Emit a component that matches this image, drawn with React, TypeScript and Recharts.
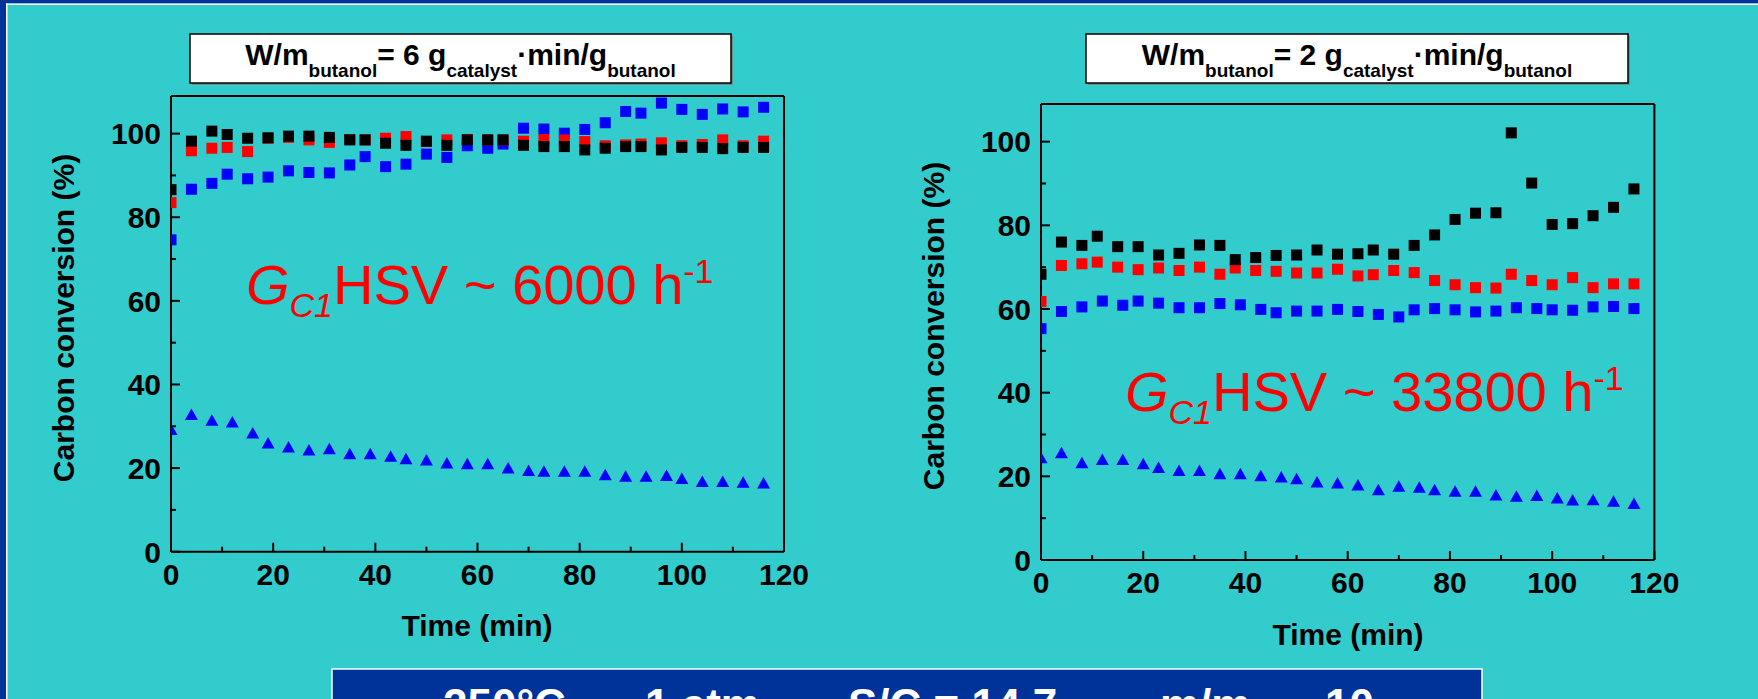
import { ScatterChart, Scatter, XAxis, YAxis } from "recharts";

// times (min)
const timeA = [0, 4, 8, 11, 15, 19, 23, 27, 31, 35, 38, 42, 46, 50, 54, 58, 62, 65, 69, 73, 77, 81, 85, 89, 92, 96, 100, 104, 108, 112, 116];
const timeB = [0, 4, 8, 12, 16, 19, 23, 27, 31, 35, 39, 43, 46, 50, 54, 58, 62, 66, 70, 73, 77, 81, 85, 89, 93, 97, 100, 104, 108, 112, 116];
const timeC = [0, 4, 8, 12, 16, 20, 23, 27, 31, 35, 39, 43, 47, 50, 54, 58, 62, 66, 70, 74, 77, 81, 85, 89, 93, 97, 101, 104, 108, 112, 116];

// W/m = 6
const blackL = [86.6, 98.2, 100.6, 99.8, 98.9, 99.0, 99.4, 99.4, 99.1, 98.5, 98.5, 97.7, 97.2, 98.2, 97.2, 98.5, 98.5, 98.5, 97.2, 96.9, 96.9, 96.1, 96.5, 96.9, 96.9, 96.1, 96.7, 96.7, 96.4, 96.7, 96.7];
const redL = [83.5, 95.9, 96.5, 96.7, 95.7, 98.9, 99.1, 98.5, 97.9, 98.6, 98.5, 98.9, 99.3, 98.1, 98.5, 98.6, 98.5, 98.5, 98.2, 98.6, 98.5, 98.1, 97.1, 97.3, 97.5, 97.8, 97.1, 97.4, 98.5, 97.1, 98.2];
const blueL = [74.6, 86.7, 88.1, 90.3, 89.2, 89.6, 91.1, 90.7, 90.6, 92.5, 94.5, 92.1, 92.7, 95.1, 94.3, 97.1, 96.5, 97.5, 101.3, 101.1, 100.1, 101.0, 102.6, 105.3, 104.9, 107.3, 105.8, 104.6, 105.9, 105.2, 106.3];
const triL = [29.1, 32.7, 31.3, 30.9, 28.3, 25.9, 24.9, 24.2, 24.5, 23.3, 23.3, 22.7, 22.1, 21.8, 21.1, 20.9, 20.9, 19.9, 19.3, 19.1, 19.1, 19.1, 18.3, 17.9, 17.9, 18.1, 17.4, 16.7, 16.7, 16.5, 16.3];

// W/m = 2
const blackR = [68.3, 76.0, 75.2, 77.4, 74.9, 74.9, 72.9, 73.3, 75.3, 75.2, 71.8, 72.3, 72.8, 72.9, 74.1, 73.1, 73.2, 74.1, 73.1, 75.2, 77.7, 81.4, 82.9, 83.0, 102.1, 90.1, 80.2, 80.4, 82.3, 84.3, 88.7];
const redR = [61.8, 70.4, 70.8, 71.2, 70.0, 69.4, 69.8, 69.2, 70.0, 68.3, 69.8, 69.2, 69.0, 68.6, 68.6, 69.5, 67.9, 68.2, 69.2, 68.7, 66.8, 65.8, 65.1, 65.0, 68.3, 66.8, 65.8, 67.5, 65.1, 66.0, 66.0];
const blueR = [55.3, 59.4, 60.5, 61.9, 60.9, 61.9, 61.4, 60.3, 60.3, 61.3, 61.0, 59.9, 59.1, 59.5, 59.5, 59.9, 59.4, 58.7, 58.1, 59.8, 60.1, 59.8, 59.3, 59.5, 60.3, 60.1, 59.8, 59.7, 60.5, 60.6, 60.1];
const triR = [24.3, 25.5, 23.1, 23.9, 23.9, 22.9, 22.0, 21.3, 21.3, 20.5, 20.5, 20.0, 19.7, 19.3, 18.5, 18.3, 17.8, 16.7, 17.5, 17.3, 16.7, 16.3, 16.3, 15.4, 15.1, 15.3, 14.7, 14.2, 14.3, 13.9, 13.4];

const xTicks = [0, 10, 20, 30, 40, 50, 60, 70, 80, 90, 100, 110, 120];
const yTicks = [0, 10, 20, 30, 40, 50, 60, 70, 80, 90, 100];

const FONT = "'Liberation Sans', Arial, sans-serif";
const BG = "#33cccc";
const NAVY = "#003399";
const AXIS = { stroke: "#000", strokeWidth: 2 };

const pts = (ts: number[], vs: number[]) => ts.map((t, i) => ({ t, v: vs[i] }));

const square = (color: string) => (p: any) =>
  <rect x={p.cx - 5.5} y={p.cy - 5.5} width={11} height={11} fill={color} />;

const triangle = (p: any) =>
  <path d={`M${p.cx},${p.cy - 6.5}L${p.cx + 6.5},${p.cy + 5}L${p.cx - 6.5},${p.cy + 5}Z`} fill="#0000ff" />;

const isMajor = (v: number) => v % 20 === 0;

const BottomTick = (p: any) => {
  const v = p.payload.value;
  return (
    <g>
      <line x1={p.x} x2={p.x} y1={p.y} y2={p.y - (isMajor(v) ? 9 : 5)} stroke="#000" strokeWidth={2} />
      {isMajor(v) && (
        <text x={p.x} y={p.y + 33} textAnchor="middle" fontSize={30} fontWeight="bold" fontFamily={FONT} fill="#000">
          {v}
        </text>
      )}
    </g>
  );
};

const TopTick = (p: any) => (
  <line x1={p.x} x2={p.x} y1={p.y} y2={p.y + (isMajor(p.payload.value) ? 9 : 5)} stroke="#000" strokeWidth={2} />
);

const LeftTick = (p: any) => {
  const v = p.payload.value;
  return (
    <g>
      <line x1={p.x} x2={p.x + (isMajor(v) ? 9 : 5)} y1={p.y} y2={p.y} stroke="#000" strokeWidth={2} />
      {isMajor(v) && (
        <text x={p.x - 10} y={p.y} dy="0.36em" textAnchor="end" fontSize={30} fontWeight="bold" fontFamily={FONT} fill="#000">
          {v}
        </text>
      )}
    </g>
  );
};

const RightTick = (p: any) => (
  <line x1={p.x} x2={p.x - (isMajor(p.payload.value) ? 9 : 5)} y1={p.y} y2={p.y} stroke="#000" strokeWidth={2} />
);

// axes are 1px thick boxes so the margins below are plot edge minus 1
function Panel({ left, width, margin, black, red, blue, tri, tB, tT }: any) {
  return (
    <div style={{ position: "absolute", left, top: 0 }}>
      <ScatterChart width={width} height={699} margin={margin}>
        <XAxis dataKey="t" type="number" domain={[0, 120]} ticks={xTicks} interval={0} allowDataOverflow
          height={1} tickSize={0} tickMargin={0} tickLine={false} axisLine={AXIS} tick={<BottomTick />} />
        <XAxis xAxisId="top" orientation="top" type="number" domain={[0, 120]} ticks={xTicks} interval={0}
          height={1} tickSize={0} tickMargin={0} tickLine={false} axisLine={AXIS} tick={<TopTick />} />
        <YAxis dataKey="v" type="number" domain={[0, 109]} ticks={yTicks} interval={0} allowDataOverflow
          width={1} tickSize={0} tickMargin={0} tickLine={false} axisLine={AXIS} tick={<LeftTick />} />
        <YAxis yAxisId="right" orientation="right" type="number" domain={[0, 109]} ticks={yTicks} interval={0}
          width={1} tickSize={0} tickMargin={0} tickLine={false} axisLine={AXIS} tick={<RightTick />} />
        <Scatter data={pts(tB, blue)} shape={square("#0000ff")} isAnimationActive={false} />
        <Scatter data={pts(timeA, red)} shape={square("#ff0000")} isAnimationActive={false} />
        <Scatter data={pts(timeA, black)} shape={square("#000000")} isAnimationActive={false} />
        <Scatter data={pts(tT, tri)} shape={triangle} isAnimationActive={false} />
      </ScatterChart>
    </div>
  );
}

function TitleBox({ x, w, n }: { x: number; w: number; n: string }) {
  return (
    <g>
      <rect x={x + 2} y={36} width={w} height={49} fill="#6a8f8f" />
      <rect x={x} y={34} width={w} height={49} fill="#fff" stroke="#000" strokeWidth={1.5} />
      <text x={x + w / 2} y={65} textAnchor="middle" fontSize={30} fontWeight="bold" fontFamily={FONT} fill="#000">
        <tspan>W/m</tspan>
        <tspan fontSize={19} dy={12}>butanol</tspan>
        <tspan dy={-12}>{`= ${n} g`}</tspan>
        <tspan fontSize={19} dy={12}>catalyst</tspan>
        <tspan dy={-12}>·min/g</tspan>
        <tspan fontSize={19} dy={12}>butanol</tspan>
      </text>
    </g>
  );
}

function Ghsv({ x, y, value }: { x: number; y: number; value: string }) {
  return (
    <text x={x} y={y} fill="#ff0000" fontSize={56} fontFamily={FONT}>
      <tspan fontStyle="italic">G</tspan>
      <tspan fontSize={34} fontStyle="italic" dy={13}>C1</tspan>
      <tspan dy={-13}>{`HSV ~ ${value} h`}</tspan>
      <tspan fontSize={34} dy={-21}>-1</tspan>
    </text>
  );
}

function YTitle({ x, y }: { x: number; y: number }) {
  return (
    <text x={x} y={y} transform={`rotate(-90 ${x} ${y})`} textAnchor="middle" fontSize={30} fontWeight="bold"
      fontFamily={FONT} fill="#000">
      Carbon conversion (%)
    </text>
  );
}

function XTitle({ x, y }: { x: number; y: number }) {
  return (
    <text x={x} y={y} textAnchor="middle" fontSize={30} fontWeight="bold" fontFamily={FONT} fill="#000">
      Time (min)
    </text>
  );
}

export default function App() {
  return (
    <div style={{ position: "absolute", left: 0, top: 0, width: 1758, height: 699, background: BG, overflow: "hidden" }}>
      <svg width={1758} height={699} style={{ position: "absolute", left: 0, top: 0 }}>
        <rect x={0} y={0} width={1758} height={3.5} fill={NAVY} />
        <rect x={0} y={3.5} width={1758} height={1.5} fill="#fff" />
        <rect x={0} y={0} width={6} height={699} fill={NAVY} />
        <rect x={6} y={3.5} width={1.5} height={699} fill="#fff" />

        <TitleBox x={190} w={541} n="6" />
        <TitleBox x={1086} w={542} n="2" />

        <Ghsv x={246} y={304} value="6000" />
        <Ghsv x={1125} y={411} value="33800" />

        <YTitle x={74} y={318} />
        <YTitle x={944} y={326} />
        <XTitle x={477} y={636} />
        <XTitle x={1348} y={645} />

        <rect x={332} y={669} width={1150} height={40} fill={NAVY} stroke="#fff" strokeWidth={1.5} />
        <text y={720} fill="#fff" fontSize={44} fontWeight="bold" fontFamily={FONT}>
          <tspan x={443}>250°C</tspan>
          <tspan x={590}>–</tspan>
          <tspan x={645}>1 atm</tspan>
          <tspan x={790}>–</tspan>
          <tspan x={848}>S/C = 14.7</tspan>
          <tspan x={1100}>–</tspan>
          <tspan x={1160}>m/m</tspan>
          <tspan x={1265}>–</tspan>
          <tspan x={1325}>10</tspan>
        </text>
      </svg>

      <Panel left={0} width={880} margin={{ top: 95, left: 170, right: 95, bottom: 146.3 }}
        black={blackL} red={redL} blue={blueL} tri={triL} tB={timeA} tT={timeB} />
      <Panel left={880} width={878} margin={{ top: 103, left: 160, right: 102.6, bottom: 138 }}
        black={blackR} red={redR} blue={blueR} tri={triR} tB={timeB} tT={timeC} />
    </div>
  );
}
